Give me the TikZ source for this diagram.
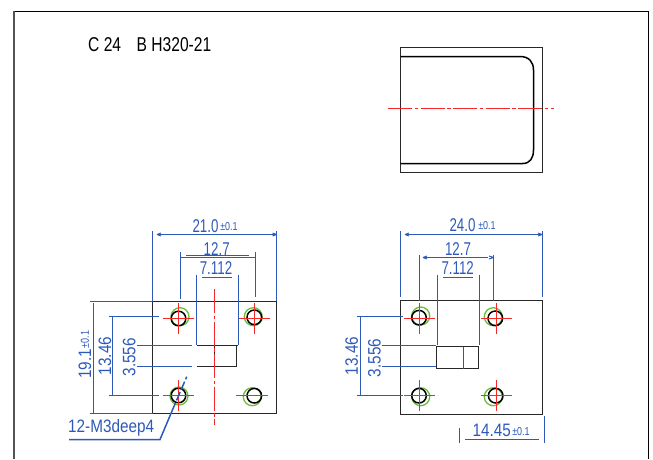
\documentclass[tikz,border=0pt]{standalone}
\usepackage{fontspec}
\setmainfont{Liberation Sans}
\newfontfamily\dimf[FakeStretch=0.72]{Liberation Sans}
\newfontfamily\widef[FakeStretch=0.85]{Liberation Sans}
\newfontfamily\tolf[FakeStretch=0.78]{Liberation Sans}
\newfontfamily\titf[FakeStretch=0.78]{Liberation Sans}
\definecolor{dimblue}{RGB}{45,90,185}
\definecolor{cred}{RGB}{245,40,40}
\definecolor{cgreen}{RGB}{105,190,55}
\definecolor{plate}{RGB}{40,40,40}
\tikzset{
  dimline/.style={draw=dimblue,line width=1.5pt},
  outline/.style={draw=plate,line width=1.9pt},
  axis/.style={draw=cred,line width=1.5pt},
  centreline/.style={draw=cred,line width=1.5pt,dash pattern=on 24pt off 2.5pt on 3.5pt off 2.5pt},
  greenring/.style={draw=cgreen,line width=1.3pt},
  blackring/.style={draw=black,line width=1.5pt},
  dimtext/.style={text=dimblue,font=\dimf\fontsize{18.5}{20}\selectfont,inner sep=0pt},
  widetext/.style={text=dimblue,font=\widef\fontsize{18}{20}\selectfont,inner sep=0pt},
  toltext/.style={text=dimblue,font=\tolf\fontsize{11.5}{13}\selectfont,inner sep=0pt},
  titletext/.style={text=black,font=\titf\fontsize{20}{22}\selectfont,inner sep=0pt,anchor=west},
  tick/.style={draw=dimblue,line width=1pt}
}
\newcommand{\hole}[6]{% black x,y ; green x,y ; red x,y
  \draw[greenring] (#3,#4) circle (9);
  \draw[blackring] (#1,#2) circle (7.3);
  \draw[axis] (#5-15.5,#6) -- (#5+15.5,#6) (#5,#6-15.5) -- (#5,#6+15.5);
}
\begin{document}
\begin{tikzpicture}[x=1pt,y=-1pt]
\useasboundingbox (0,0) rectangle (653,459);
% frame
\draw[draw=black,line width=1.5pt] (14,11.5) -- (648.5,11.5) -- (648.5,459);
\draw[draw=plate!80,line width=2.4pt] (14,11) -- (14,459);
% title
\node[titletext] (title1) at (88,45) {C 24};
\node[titletext] (title2) at (136.5,45) {B H320-21};
% top view
\draw[outline] (400.5,47.5) rectangle (542.5,172.5);
\draw[draw=black,line width=1.5pt] (400.5,56.5) -- (520,56.5) .. controls (529,56.5) and (533.5,62) .. (533.5,70)
  -- (533.5,150) .. controls (533.5,158) and (530,163.5) .. (522.7,163.5) -- (400.5,163.5);
\draw[centreline] (388.3,108.5) -- (554,108.5);
% left view
\draw[outline] (152.5,301.5) rectangle (276.5,413.5);
\hole{178.5}{318.5}{180}{316.7}{178.5}{318.5}
\hole{254.3}{317.3}{253.3}{316.7}{254.5}{318.5}
\hole{178.5}{395.5}{179}{396}{178.5}{395.5}
\draw[greenring] (252.3,396.7) circle (9);
\draw[blackring] (254.3,395.7) circle (7.3);
\draw[axis] (236,395.5) -- (267.5,395.5);
\draw[outline] (196.5,345.5) -- (238,345.5);
\draw[outline] (196.5,366.5) -- (236.5,366.5) -- (236.5,345.5);
\draw[outline] (214.5,345.5) -- (214.5,366.5);
\draw[centreline] (214.5,289) -- (214.5,425);
% left view dimensions
\draw[dimline] (152.5,231) -- (152.5,301);
\draw[dimline] (276.5,231) -- (276.5,301);
\draw[dimline] (157,234.5) -- (276.5,234.5);
\draw[tick] (157,234.5) -- (161,233) (157,234.5) -- (161,236) (276.5,234.5) -- (272.5,233) (276.5,234.5) -- (272.5,236);
\node[dimtext] (a21) at (205.5,225.7) {21.0};
\node[toltext] (a21t) at (229,226.5) {±0.1};
\draw[dimline] (180.5,252) -- (180.5,299);
\draw[dimline] (255.5,252) -- (255.5,297);
\draw[dimline] (186,255.5) -- (249.3,255.5);
\draw[tick] (180,257.5) -- (255,257.5);
\node[dimtext] (a127) at (216.7,249) {12.7};
\draw[dimline] (202.3,277.5) -- (232.3,277.5);
\node[dimtext] (a7) at (216,267.7) {7.112};
\draw[dimline] (196.5,274.7) -- (196.5,345);
\draw[dimline] (238.5,274.7) -- (238.5,345);
\draw[dimline] (90,301.5) -- (152.5,301.5);
\draw[dimline] (90,413.5) -- (152.5,413.5);
\draw[dimline] (93.5,303) -- (93.5,412.5);
\node[widetext,rotate=90] (a19) at (85,364) {19.1};
\node[toltext,rotate=90] (a19t) at (85,339.5) {±0.1};
\draw[dimline] (109,316.5) -- (159.3,316.5);
\draw[dimline] (109,395.5) -- (159.3,395.5);
\draw[dimline] (112.5,317) -- (112.5,395.5);
\node[widetext,rotate=90] (a134) at (105,356) {13.46};
\draw[dimline] (136.7,345.5) -- (191.7,345.5);
\draw[dimline] (136.7,366.5) -- (191.7,366.5);
\node[widetext,rotate=90] (a35) at (129.3,357.3) {3.556};
\node[widetext,anchor=west] (a12m) at (68,428) {12-M3deep4};
\draw[dimline] (69,439.5) -- (160,439.5) -- (172,411);
\draw[dimline,dash pattern=on 9pt off 2.5pt] (172,411) -- (186.7,376.7);
% right view
\draw[outline] (400.5,300.5) rectangle (542.5,414.5);
\hole{419}{317.7}{420.7}{316}{419.5}{318.5}
\hole{495.3}{318.3}{493.3}{316.7}{496.5}{318.5}
\hole{419}{395.7}{420.7}{396.7}{419.5}{395.5}
\hole{495.7}{395.7}{493.3}{396.7}{496.5}{395.5}
\draw[outline] (436.5,346.5) rectangle (478.5,368.5);
\draw[draw=plate!80,line width=1.6pt] (463.5,346.5) -- (463.5,368.5);
% right view dimensions
\draw[dimline] (400.5,231) -- (400.5,297);
\draw[dimline] (542.5,231) -- (542.5,297);
\draw[dimline] (405,234.5) -- (542,234.5);
\draw[tick] (405,234.5) -- (409,233) (405,234.5) -- (409,236) (542,234.5) -- (538,233) (542,234.5) -- (538,236);
\node[dimtext] (b24) at (462.5,225.2) {24.0};
\node[toltext] (b24t) at (487,226) {±0.1};
\draw[dimline] (419.5,255) -- (419.5,301);
\draw[dimline] (493.5,255) -- (493.5,301);
\draw[dimline] (423,257.5) -- (488,257.5);
\draw[tick] (423,257.5) -- (427,256) (423,257.5) -- (427,259) (493.5,257.5) -- (489,256) (493.5,257.5) -- (489,259);
\node[dimtext] (b127) at (458,249) {12.7};
\draw[dimline] (443.3,277.5) -- (473.3,277.5);
\node[dimtext] (b7) at (457.7,267.7) {7.112};
\draw[dimline] (437.5,274.7) -- (437.5,345);
\draw[dimline] (479.5,274.7) -- (479.5,345);
\draw[dimline] (356.7,316.5) -- (402.5,316.5);
\draw[dimline] (356.7,395.5) -- (402.5,395.5);
\draw[dimline] (360.5,317) -- (360.5,395.5);
\node[widetext,rotate=90] (b134) at (351.7,356) {13.46};
\draw[dimline] (381.7,345.5) -- (436,345.5);
\draw[dimline] (381.7,366.5) -- (436,366.5);
\node[widetext,rotate=90] (b35) at (374.3,358) {3.556};
\draw[dimline] (459.5,427.7) -- (459.5,443);
\draw[dimline] (544.5,416) -- (544.5,443);
\draw[dimline] (465,439.5) -- (538.7,439.5);
\node[widetext] (b14) at (491.7,430.7) {14.45};
\node[toltext] (b14t) at (521,431.5) {±0.1};
\end{tikzpicture}
\end{document}
